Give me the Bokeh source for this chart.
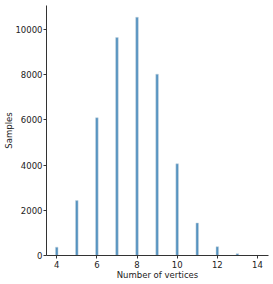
from bokeh.plotting import figure
from bokeh.embed import file_html
from bokeh.resources import INLINE
from bokeh.models import FixedTicker, Range1d

vertices = [4, 5, 6, 7, 8, 9, 10, 11, 12, 13, 14]
samples = [370, 2430, 6100, 9650, 10550, 8030, 4060, 1440, 390, 80, 5]
x_ticks = [4, 6, 8, 10, 12, 14]
y_ticks = [0, 2000, 4000, 6000, 8000, 10000]

p = figure(width=273, height=284, output_backend="svg", toolbar_location=None,
           x_range=Range1d(3.49, 14.55), y_range=Range1d(0, 11070),
           min_border_left=46, min_border_right=5, min_border_top=5, min_border_bottom=29)

p.vbar(x=vertices, top=samples, width=0.13, bottom=0,
       fill_color="#2a78b0", fill_alpha=0.8, line_color="#c8d4de", line_width=0.5)

p.outline_line_color = None
p.xgrid.grid_line_color = None
p.ygrid.grid_line_color = None
p.xaxis.ticker = FixedTicker(ticks=x_ticks)
p.yaxis.ticker = FixedTicker(ticks=y_ticks)
for ax in (p.xaxis, p.yaxis):
    ax.axis_line_color = "#333333"
    ax.major_tick_line_color = "#333333"
    ax.minor_tick_line_color = None
    ax.major_tick_out = 3
    ax.major_tick_in = 0
    ax.major_label_text_font = "DejaVu Sans"
    ax.major_label_text_font_size = "8.5px"
    ax.major_label_text_color = "#222222"
    ax.axis_label_text_font = "DejaVu Sans"
    ax.axis_label_text_font_size = "8.5px"
    ax.axis_label_text_font_style = "normal"
    ax.axis_label_text_color = "#222222"
    ax.major_label_standoff = 2
    ax.axis_label_standoff = 2
p.xaxis.axis_label = "Number of vertices"
p.yaxis.axis_label = "Samples"
p.xaxis.axis_label_standoff = -1
p.yaxis.major_label_standoff = 1
p.yaxis.axis_label_standoff = -2

open("out.html", "w").write(file_html(p, INLINE))
